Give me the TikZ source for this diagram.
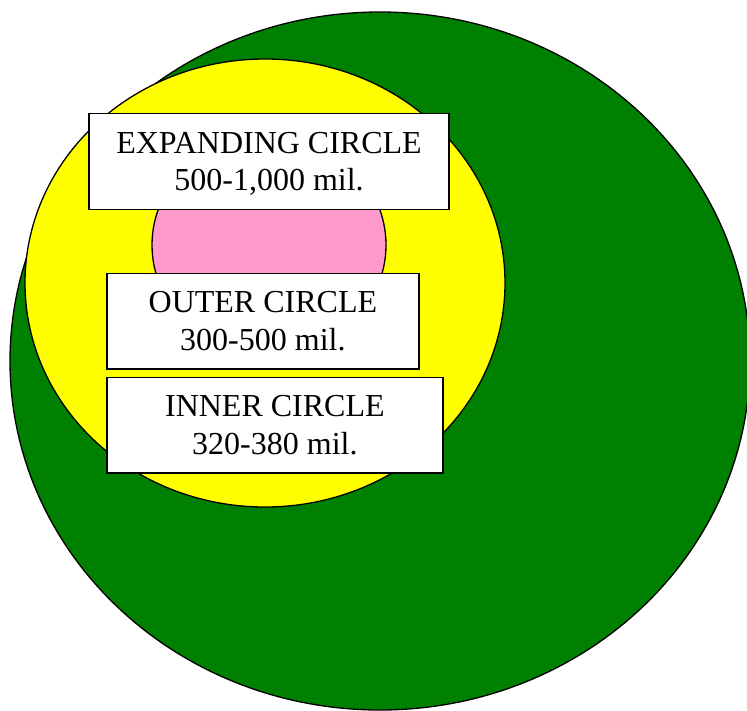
\documentclass[tikz,border=0pt]{standalone}
\usepackage{fontspec}
\setmainfont{Liberation Serif}
\usetikzlibrary{calc}
\definecolor{cgreen}{RGB}{0,128,0}
\definecolor{cyellow}{RGB}{255,255,0}
\definecolor{cpink}{RGB}{255,153,204}
\tikzset{
  ring/.style={draw=black, line width=1.3pt},
  labelbox/.style={draw=black, fill=white, line width=1.5pt, rectangle, inner sep=0pt, anchor=north west},
  txt/.style={font=\fontsize{32}{36}\selectfont, inner sep=0pt, anchor=base, text=black}
}
\begin{document}
\begin{tikzpicture}[x=1pt, y=-1pt]
\clip (0,0) rectangle (747,710);
\fill[white] (0,0) rectangle (747,710);
% circles
\draw[ring, fill=cgreen] (380,361) ellipse [x radius=370, y radius=349];
\draw[ring, fill=cyellow] (265,283) ellipse [x radius=240, y radius=224];
\draw[ring, fill=cpink] (269,245) ellipse [x radius=117, y radius=110];
% boxes
\node[labelbox, minimum width=360pt, minimum height=96pt] (b1) at (88.3,112.7) {};
\node[labelbox, minimum width=312.3pt, minimum height=95.6pt] (b2) at (106,272.7) {};
\node[labelbox, minimum width=336.3pt, minimum height=95.6pt] (b3) at (106,376.7) {};
% texts
\node[txt] (t1a) at ($(b1.north)+(0,40.6)$) {EXPANDING CIRCLE};
\node[txt] (t1b) at ($(b1.north)+(0,77.3)$) {500-1,000 mil.};
\node[txt] (t2a) at ($(b2.north)+(0,40)$) {OUTER CIRCLE};
\node[txt] (t2b) at ($(b2.north)+(0,77.3)$) {300-500 mil.};
\node[txt] (t3a) at ($(b3.north)+(0,40)$) {INNER CIRCLE};
\node[txt] (t3b) at ($(b3.north)+(0,77.3)$) {320-380 mil.};
\end{tikzpicture}
\end{document}
